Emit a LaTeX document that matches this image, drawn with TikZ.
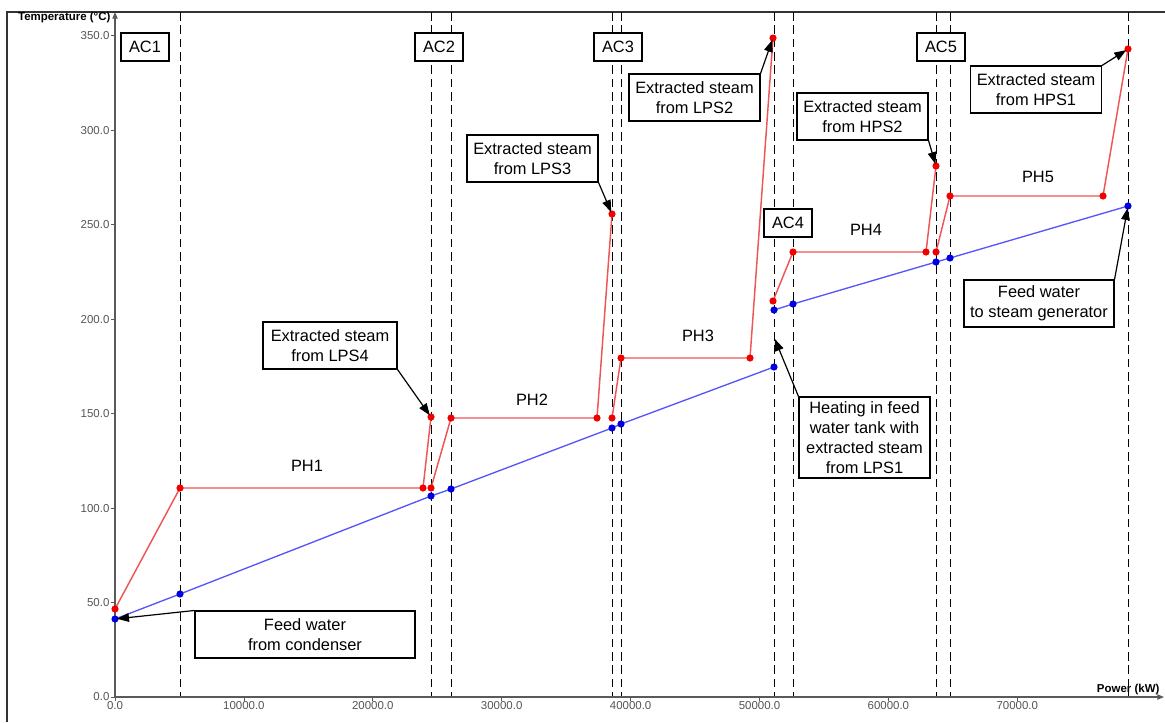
\documentclass[tikz,border=0pt]{standalone}
\usepackage{fontspec}
\setmainfont{Liberation Sans}
\usetikzlibrary{arrows.meta}
\definecolor{hotline}{RGB}{240,85,85}
\definecolor{hotdot}{RGB}{240,0,0}
\definecolor{coldline}{RGB}{85,85,250}
\definecolor{colddot}{RGB}{0,0,225}
\definecolor{axisgray}{RGB}{90,90,90}
\definecolor{ticktext}{RGB}{85,85,85}
\begin{document}
\begin{tikzpicture}[x=0.75pt,y=-0.75pt,
  guide/.style={black, line width=0.7pt, dash pattern=on 6.5pt off 3.5pt},
  hot/.style={hotline, line width=1.1pt},
  cold/.style={coldline, line width=1.0pt},
  hdot/.style={fill=hotdot},
  cdot/.style={fill=colddot},
  acbox/.style={draw, line width=0.8pt, minimum width=36pt, minimum height=21pt, inner sep=0pt, font=\fontsize{12.3}{15}\selectfont},
  infobox/.style={draw, line width=0.8pt, align=center, inner sep=0pt, minimum height=35.25pt, font=\fontsize{12.3}{15}\selectfont},
  phlabel/.style={font=\fontsize{12.3}{15}\selectfont},
  pointer/.style={black, line width=0.9pt, -{Triangle[length=9pt,width=6.5pt]}, shorten >=1.5pt},
  ticklab/.style={text=ticktext, font=\fontsize{8.6}{10}\selectfont, inner sep=1pt},
  axlab/.style={font=\bfseries\fontsize{8.6}{10}\selectfont, inner sep=1pt}
]
\useasboundingbox (0,0) rectangle (1165,722);
% frame
\draw[line width=1.5pt, black!80] (7,722) -- (7,12) -- (1165,12);

% dashed guides
\foreach \gx in {180,431,451,612,621,774,793,936,950,1128}
  \draw[guide] (\gx,12) -- (\gx,697);

% axes
\draw[axisgray, line width=0.8pt, -{Triangle[length=5pt,width=4pt]}] (115,697) -- (115,12);
\draw[axisgray, line width=0.8pt, -{Triangle[length=5pt,width=4pt]}] (115,697) -- (1164,697);
\foreach \t in {0,50,...,350}{
  \pgfmathsetmacro\yy{697-1.889*\t}
  \draw[axisgray, line width=0.6pt] (111,\yy) -- (115,\yy);
  \node[ticklab, anchor=east] (ytick\t) at (111,\yy) {\t.0};
}
\foreach \k in {0,...,7}{
  \pgfmathsetmacro\xx{115+128.9*\k}
  \draw[axisgray, line width=0.6pt] (\xx,697) -- (\xx,701);
  \node[ticklab, anchor=north] (xtick\k) at (\xx,700) {\ifnum\k=0 0.0\else\k0000.0\fi};
}
\node[axlab, anchor=east] (ylab) at (112,18) {Temperature (°C)};
\node[axlab, anchor=east] (xlab) at (1161,690) {Power (kW)};

% data coordinates
\coordinate (r1) at (115,609); \coordinate (r2) at (180,488); \coordinate (r3) at (423,488); \coordinate (r4) at (431,417);
\coordinate (r5) at (431,488); \coordinate (r6) at (451,418); \coordinate (r7) at (597,418); \coordinate (r8) at (612,214);
\coordinate (r9) at (612,418); \coordinate (r10) at (621,358); \coordinate (r11) at (750,358); \coordinate (r12) at (773,38);
\coordinate (r13) at (773,301); \coordinate (r14) at (793,252); \coordinate (r15) at (926,252); \coordinate (r16) at (936,166);
\coordinate (r17) at (936,252); \coordinate (r18) at (950,196); \coordinate (r19) at (1103,196); \coordinate (r20) at (1128,49);

\coordinate (b1) at (115,619); \coordinate (b2) at (180,594); \coordinate (b3) at (431,496); \coordinate (b4) at (451,489);
\coordinate (b5) at (612,428); \coordinate (b6) at (621,424); \coordinate (b7) at (774,367);
\coordinate (b8) at (774,310); \coordinate (b9) at (793,304); \coordinate (b10) at (936,262); \coordinate (b11) at (950,258); \coordinate (b12) at (1128,206);
\coordinate (tank) at (774,337);

% curves
\draw[cold] (b1) -- (b2) -- (b3) -- (b4) -- (b5) -- (b6) -- (b7);
\draw[cold] (b8) -- (b9) -- (b10) -- (b11) -- (b12);
\draw[hot] (r1) -- (r2) -- (r3) -- (r4);
\draw[hot] (r5) -- (r6) -- (r7) -- (r8);
\draw[hot] (r9) -- (r10) -- (r11) -- (r12);
\draw[hot] (r13) -- (r14) -- (r15) -- (r16);
\draw[hot] (r17) -- (r18) -- (r19) -- (r20);
\foreach \p in {1,...,20} \fill[hdot] (r\p) circle (3.6);
\foreach \p in {1,...,12} \fill[cdot] (b\p) circle (3.6);

% AC boxes
\node[acbox, fill=white] (ac1) at (145,47) {AC1};
\node[acbox, fill=white] (ac2) at (439,47) {AC2};
\node[acbox, fill=white] (ac3) at (618,47) {AC3};
\node[acbox, fill=white] (ac4) at (788,223) {AC4};
\node[acbox, fill=white] (ac5) at (941,47) {AC5};

% PH labels
\node[phlabel] (ph1) at (307,466) {PH1};
\node[phlabel] (ph2) at (532,400) {PH2};
\node[phlabel] (ph3) at (698,336) {PH3};
\node[phlabel] (ph4) at (866,230) {PH4};
\node[phlabel] (ph5) at (1038,177) {PH5};

% info boxes
\node[infobox, fill=white, minimum width=100.5pt] (lps4) at (330,345.5) {Extracted steam\\from LPS4};
\node[infobox, fill=white, minimum width=98.25pt] (lps3) at (532.5,158.5) {Extracted steam\\from LPS3};
\node[infobox, fill=white, minimum width=98.25pt] (lps2) at (694.5,97.5) {Extracted steam\\from LPS2};
\node[infobox, fill=white, minimum width=98.25pt] (hps2) at (862.5,116.5) {Extracted steam\\from HPS2};
\node[infobox, fill=white, minimum width=98.25pt] (hps1) at (1036,89.5) {Extracted steam\\from HPS1};
\node[infobox, fill=white, minimum width=112.5pt] (fwsg) at (1039,303.5) {Feed water\\to steam generator};
\node[infobox, fill=white, minimum width=98.25pt, minimum height=60.75pt] (heat) at (864.5,437.5) {Heating in feed\\water tank with\\extracted steam\\from LPS1};
\node[infobox, fill=white, minimum width=165pt] (fwc) at (305,634.5) {Feed water\\from condenser};

% pointers
\draw[pointer] (lps4.south east) -- (r4);
\draw[pointer] (lps3.south east) -- (r8);
\draw[pointer] (lps2.north east) -- (r12);
\draw[pointer] (hps2.south east) -- (r16);
\draw[pointer] (hps1.north east) -- (r20);
\draw[pointer] (fwsg.north east) -- (b12);
\draw[pointer] (heat.north west) -- (tank);
\draw[pointer] (fwc.north west) -- (b1);
\end{tikzpicture}
\end{document}
